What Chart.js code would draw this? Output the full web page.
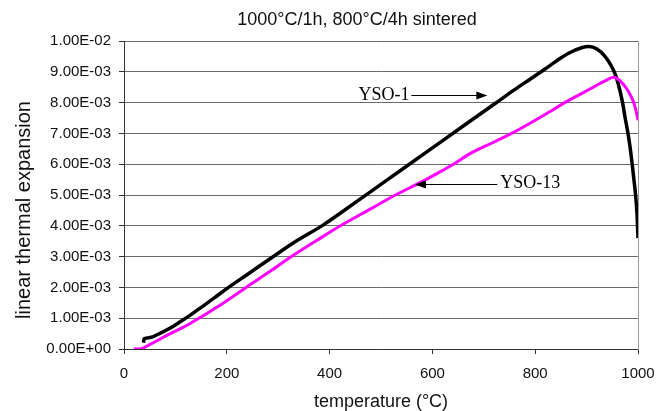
<!DOCTYPE html>
<html>
<head>
<meta charset="utf-8">
<title>Linear thermal expansion</title>
<script src="https://cdn.jsdelivr.net/npm/chart.js@4.4.1/dist/chart.umd.min.js"></script>
<style>
  html, body { margin: 0; padding: 0; background: #fff; }
  canvas { display: block; }
</style>
</head>
<body>
<canvas id="c" width="670" height="411"></canvas>
<script>
// Dilatometer runs, temperature in °C, expansion as dL/L (in units of 1e-3)
const ysO1Temp = [38, 39, 50, 70, 90, 110, 129, 150, 175, 200, 240, 285, 330, 388, 420, 480, 540, 600, 660, 722, 760, 790, 820, 842, 865, 890, 905, 920, 935, 946, 955, 962, 970, 975, 980, 984, 988, 991, 995, 998, 1000];
const ysO1Exp = [0.20, 0.33, 0.37, 0.51, 0.68, 0.89, 1.10, 1.35, 1.65, 1.96, 2.42, 2.94, 3.45, 4.03, 4.40, 5.11, 5.82, 6.53, 7.24, 7.97, 8.42, 8.76, 9.10, 9.36, 9.60, 9.78, 9.82, 9.74, 9.52, 9.25, 8.95, 8.58, 8.00, 7.50, 7.05, 6.62, 6.10, 5.65, 5.05, 4.40, 3.60];

const ysO13Temp = [19, 30, 38, 50, 70, 90, 110, 129, 150, 175, 200, 240, 285, 330, 382, 421, 480, 528, 576, 620, 641, 674, 720, 754, 790, 820, 861, 900, 926, 940, 952, 962, 970, 978, 985, 991, 996, 1000];
const ysO13Exp = [0.00, 0.00, 0.04, 0.14, 0.32, 0.50, 0.66, 0.83, 1.04, 1.30, 1.57, 2.03, 2.53, 3.05, 3.60, 4.00, 4.55, 5.00, 5.40, 5.80, 6.00, 6.35, 6.72, 7.00, 7.33, 7.62, 8.03, 8.38, 8.62, 8.74, 8.82, 8.75, 8.62, 8.45, 8.25, 8.03, 7.75, 7.43];

const xTickLabels = ['0', '200', '400', '600', '800', '1000'];
const yTickLabels = ['0.00E+00', '1.00E-03', '2.00E-03', '3.00E-03', '4.00E-03', '5.00E-03',
                     '6.00E-03', '7.00E-03', '8.00E-03', '9.00E-03', '1.00E-02'];

const chartTitle = '1000\u00B0C/1h, 800\u00B0C/4h sintered';
const xTitle = 'temperature (\u00B0C)';
const yTitle = 'linear thermal expansion';

// Series labels with arrows: text anchor and arrow tip, in data units
const seriesLabels = [
  { text: 'YSO-1',  textT: 456, textV: 8.25e-3, side: 'left',  tipT: 707, tipV: 8.25e-3 },
  { text: 'YSO-13', textT: 732, textV: 5.37e-3, side: 'right', tipT: 566, tipV: 5.37e-3 }
];

const toPoints = (ts, vs) => ts.map((t, i) => ({ x: t, y: vs[i] * 1e-3 }));

const SANS = '"Liberation Sans", Arial, Helvetica, sans-serif';
const SERIF = '"Liberation Serif", "Times New Roman", serif';

const decorations = {
  id: 'decorations',
  afterDraw(chart) {
    const { ctx, scales: { x, y } } = chart;
    ctx.save();
    // chart heading
    ctx.fillStyle = '#111';
    ctx.font = '18px ' + SANS;
    ctx.textAlign = 'center';
    ctx.textBaseline = 'middle';
    ctx.fillText(chartTitle, 357, 20);
    // vertical axis title
    ctx.save();
    ctx.translate(24, 210);
    ctx.rotate(-Math.PI / 2);
    ctx.font = '20px ' + SANS;
    ctx.fillText(yTitle, 0, 0);
    ctx.restore();
    // series labels and arrows
    ctx.font = '18px ' + SERIF;
    ctx.strokeStyle = '#000';
    ctx.fillStyle = '#000';
    ctx.lineWidth = 1;
    ctx.textAlign = 'left';
    seriesLabels.forEach(l => {
      const tx = x.getPixelForValue(l.textT);
      const ty = y.getPixelForValue(l.textV);
      const px = x.getPixelForValue(l.tipT);
      const py = Math.round(y.getPixelForValue(l.tipV)) + 0.5;
      const w = ctx.measureText(l.text).width;
      ctx.fillText(l.text, tx, ty);
      const startX = l.side === 'left' ? tx + w + 2 : tx - 3;
      const dir = Math.sign(px - startX);
      ctx.beginPath();
      ctx.moveTo(startX, py);
      ctx.lineTo(px - dir * 8, py);
      ctx.stroke();
      ctx.beginPath();
      ctx.moveTo(px, py);
      ctx.lineTo(px - dir * 11, py - 4);
      ctx.lineTo(px - dir * 11, py + 4);
      ctx.closePath();
      ctx.fill();
    });
    ctx.restore();
  }
};

new Chart(document.getElementById('c'), {
  type: 'line',
  data: {
    datasets: [
      {
        label: 'YSO-13',
        data: toPoints(ysO13Temp, ysO13Exp),
        borderColor: '#ff00ff',
        borderWidth: 3,
        pointRadius: 0,
        cubicInterpolationMode: 'monotone',
        order: 1
      },
      {
        label: 'YSO-1',
        data: toPoints(ysO1Temp, ysO1Exp),
        borderColor: '#000000',
        borderWidth: 3.5,
        pointRadius: 0,
        cubicInterpolationMode: 'monotone',
        order: 2
      }
    ]
  },
  options: {
    responsive: false,
    animation: false,
    devicePixelRatio: 1,
    layout: { padding: { left: 0, right: 32, top: 41, bottom: 0 } },
    plugins: {
      legend: { display: false },
      tooltip: { enabled: false },
      title: { display: false }
    },
    scales: {
      x: {
        type: 'linear',
        min: 0,
        max: 1000,
        afterBuildTicks: s => { s.ticks = xTickLabels.map(v => ({ value: Number(v) })); },
        afterFit: s => { s.height = 62; },
        ticks: {
          color: '#111',
          font: { family: SANS, size: 15 },
          padding: 11,
          maxRotation: 0,
          callback: (v, i) => xTickLabels[i]
        },
        grid: { drawOnChartArea: false, drawTicks: true, tickLength: 5, color: '#333' },
        border: { display: true, color: '#333', width: 1 },
        title: {
          display: true,
          text: xTitle,
          color: '#111',
          font: { family: SANS, size: 18, lineHeight: 1 },
          padding: { top: 0, bottom: 0 }
        }
      },
      y: {
        type: 'linear',
        min: 0,
        max: 0.01,
        afterBuildTicks: s => { s.ticks = yTickLabels.map((_, i) => ({ value: i * 0.001 })); },
        afterFit: s => { s.width = 124; },
        ticks: {
          color: '#111',
          font: { family: SANS, size: 15 },
          padding: 8,
          callback: (v, i) => yTickLabels[i]
        },
        grid: { color: '#6a6a6a', lineWidth: 1, tickLength: 5, tickColor: '#333' },
        border: { display: true, color: '#333', width: 1 }
      },
      yRight: {
        type: 'linear',
        position: 'right',
        min: 0,
        max: 0.01,
        afterFit: s => { s.width = 0; },
        ticks: { display: false },
        grid: { drawOnChartArea: false, drawTicks: false },
        border: { display: true, color: '#999', width: 1 }
      }
    }
  },
  plugins: [decorations]
});
</script>
</body>
</html>
